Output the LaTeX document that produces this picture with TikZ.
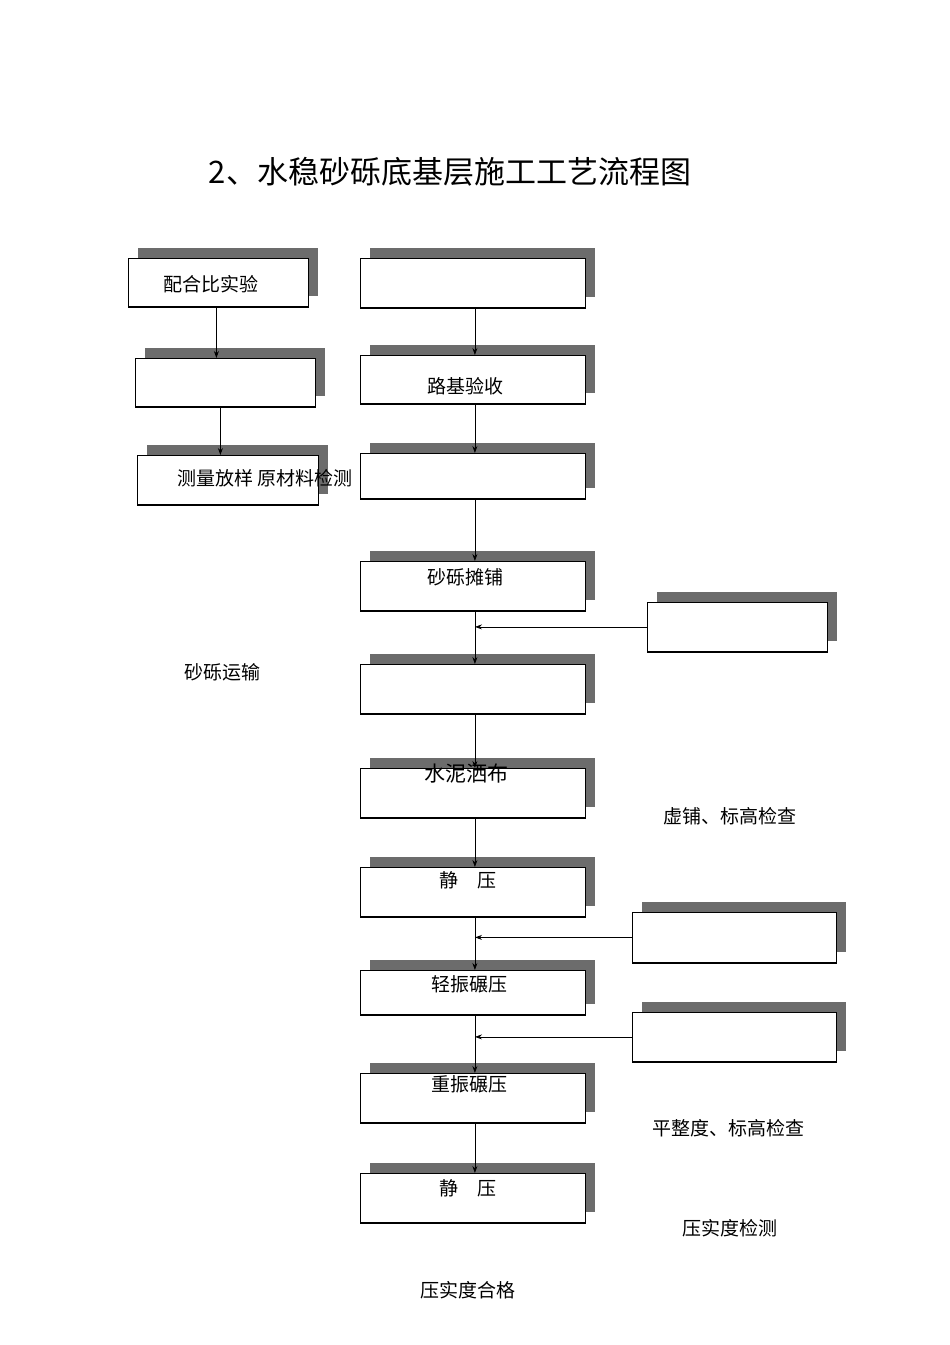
\documentclass[tikz,border=0pt]{standalone}
\usepackage{fontspec}
\newfontfamily\cjk{Noto Sans CJK SC}
\usetikzlibrary{arrows.meta}
\begin{document}
\begin{tikzpicture}[x=1pt,y=-1pt,
  arr/.style={-{Stealth[length=7pt,width=5pt]},line width=0.8pt},
  lbl/.style={font=\cjk\fontsize{19}{19}\selectfont,inner sep=0pt}]
\useasboundingbox (0,0) rectangle (950,1345);
\newcommand{\shbox}[5]{% name x1 y1 x2 y2
  \fill[gray!85!black] (#2+10,#3-10) rectangle (#4+10,#5-10);
  \node[draw,fill=white,line width=0.8pt,inner sep=0pt,minimum width=#4-#2,minimum height=#5-#3,anchor=north west] (#1) at (#2,#3) {};
  \draw[line width=1.6pt] (#1.south west) -- (#1.south east);}
\node[font=\cjk\fontsize{31}{31}\selectfont] (title) at (450,172) {2、水稳砂砾底基层施工工艺流程图};
\shbox{l1}{128}{258}{308}{306}
\shbox{l2}{135}{358}{315}{406}
\shbox{l3}{137}{455}{318}{504}
\shbox{b1}{360}{258}{585}{307}
\shbox{b2}{360}{355}{585}{403}
\shbox{b3}{360}{453}{585}{498}
\shbox{b4}{360}{561}{585}{610}
\shbox{b5}{360}{664}{585}{713}
\shbox{b6}{360}{768}{585}{817}
\shbox{b7}{360}{867}{585}{916}
\shbox{b8}{360}{970}{585}{1014}
\shbox{b9}{360}{1073}{585}{1122}
\shbox{b10}{360}{1173}{585}{1222}
\shbox{r1}{647}{602}{827}{651}
\shbox{r2}{632}{912}{836}{962}
\shbox{r3}{632}{1012}{836}{1061}
\draw[arr] ([xshift=-2pt]l1.south) -- ([xshift=-2pt]l1.south |- l2.north);
\draw[arr] ([xshift=-5pt]l2.south) -- ([xshift=-5pt]l2.south |- l3.north);
\foreach \a/\b in {b1/b2,b2/b3,b3/b4,b4/b5,b5/b6,b6/b7,b7/b8,b8/b9,b9/b10}
  \draw[arr] ([xshift=2pt]\a.south) -- ([xshift=2pt]\b.north);
\draw[arr] (r1.west) -- (r1.west -| 475,0);
\draw[arr] (r2.west) -- (r2.west -| 475,0);
\draw[arr] (r3.west) -- (r3.west -| 475,0);
\node[lbl] (t1) at (211,284) {配合比实验};
\node[lbl] (t2) at (265,478) {测量放样 原材料检测};
\node[lbl] (t3) at (465,386) {路基验收};
\node[lbl] (t4) at (465,577) {砂砾摊铺};
\node[lbl] (t5) at (466,774) {\fontsize{21}{21}\selectfont 水泥洒布};
\node[lbl] (t6) at (468,880) {静\hspace{1em}压};
\node[lbl] (t7) at (469,984) {轻振碾压};
\node[lbl] (t8) at (469,1084) {重振碾压};
\node[lbl] (t9) at (468,1188) {静\hspace{1em}压};
\node[lbl] (t10) at (222,672) {砂砾运输};
\node[lbl] (t11) at (730,816) {虚铺、标高检查};
\node[lbl] (t12) at (728,1128) {平整度、标高检查};
\node[lbl] (t13) at (730,1228) {压实度检测};
\node[lbl] (t14) at (468,1290) {压实度合格};
\end{tikzpicture}
\end{document}
